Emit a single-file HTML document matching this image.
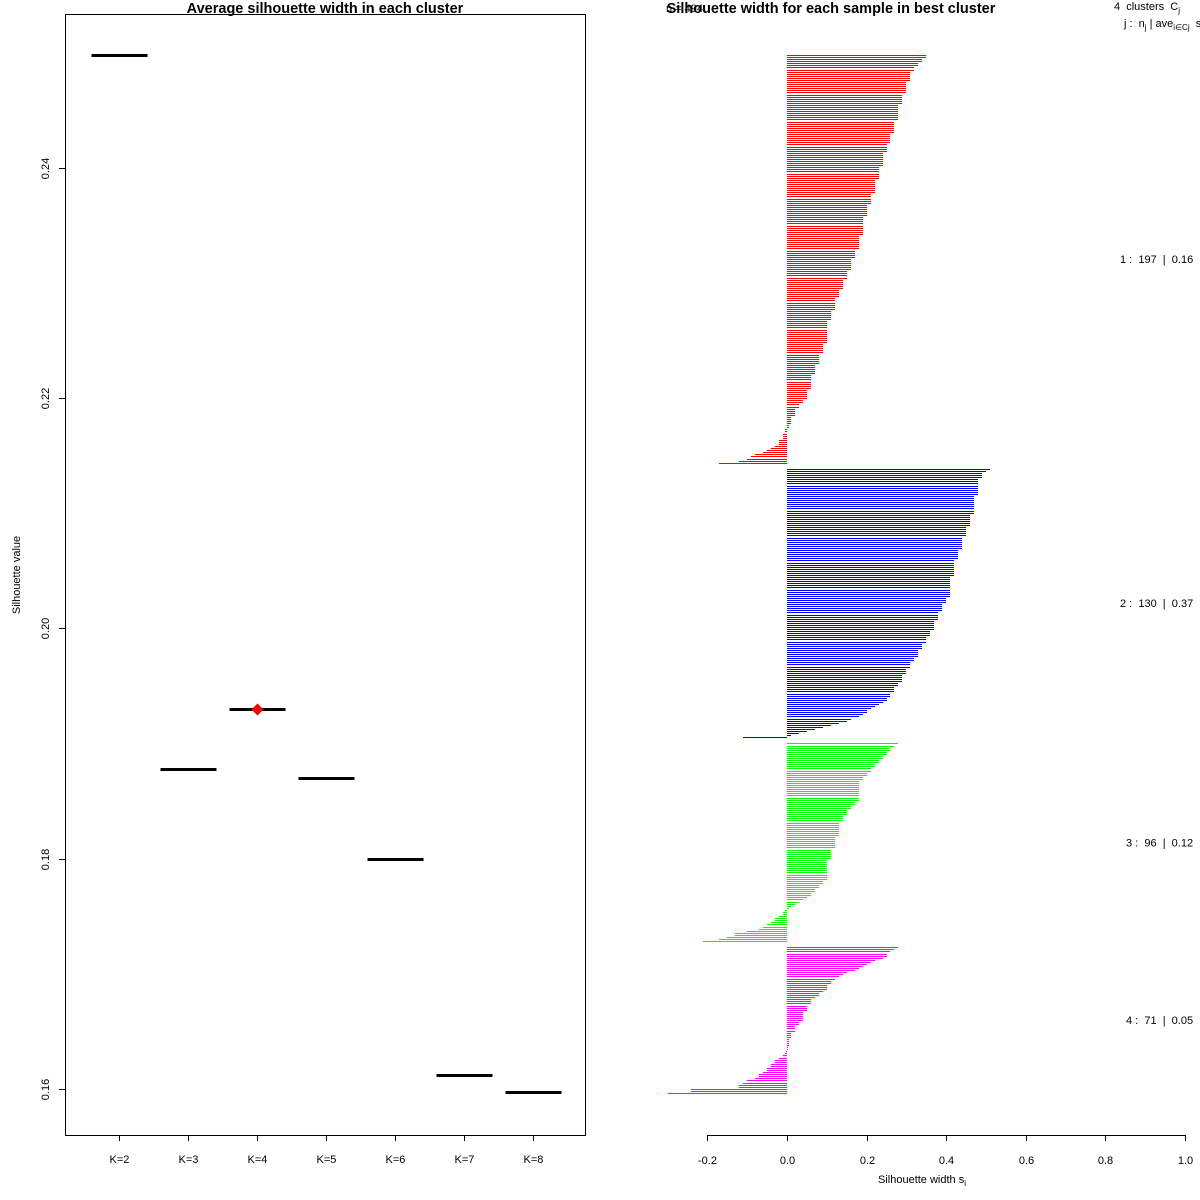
<!DOCTYPE html>
<html><head><meta charset="utf-8"><style>
html,body{margin:0;padding:0;background:#fff;}
svg{display:block;font-family:"Liberation Sans",Arial,sans-serif;}
text{white-space:pre;}
</style></head><body>
<svg id="chart" width="1200" height="1200" viewBox="0 0 1200 1200" xmlns="http://www.w3.org/2000/svg"></svg>
<script>
// ---- Left chart data ----
const kLabels = ["K=2","K=3","K=4","K=5","K=6","K=7","K=8"];
const avgSil = [0.2498,0.1878,0.1930,0.1870,0.1800,0.1612,0.1597];
const bestK = "K=4";
const yTicks = [0.16,0.18,0.20,0.22,0.24];
// ---- Right chart data ----
const clusterNames = ["1","2","3","4"];
const clusterColors = ["#ff0000","#0000ff","#00ff00","#ff00ff"];
const clusterSizes = [197,130,96,71];
const clusterAvg = ["0.16","0.37","0.12","0.05"];
const sil1 = [.35,.35,.34,.34,.33,.33,.32,.32,.31,.31,.31,.31,.31,.30,.30,.30,.30,.30,.30,.29,
.29,.29,.29,.29,.28,.28,.28,.28,.28,.28,.28,.28,.27,.27,.27,.27,.27,.27,.26,.26,
.26,.26,.26,.25,.25,.25,.25,.24,.24,.24,.24,.24,.24,.24,.23,.23,.23,.23,.23,.23,
.22,.22,.22,.22,.22,.22,.22,.21,.21,.21,.21,.21,.20,.20,.20,.20,.20,.20,.19,.19,
.19,.19,.19,.19,.19,.19,.19,.18,.18,.18,.18,.18,.18,.18,.17,.17,.17,.17,.16,.16,
.16,.16,.16,.16,.15,.15,.15,.15,.14,.14,.14,.14,.14,.13,.13,.13,.13,.12,.12,.12,
.12,.12,.12,.11,.11,.11,.11,.11,.10,.10,.10,.10,.10,.10,.10,.10,.10,.10,.10,.09,
.09,.09,.09,.09,.08,.08,.08,.08,.08,.07,.07,.07,.07,.07,.06,.06,.06,.06,.06,.06,
.06,.05,.05,.05,.05,.05,.04,.04,.03,.03,.02,.02,.02,.02,.01,.01,.01,.01,.005,.005,
-.005,-.005,-.01,-.01,-.01,-.02,-.02,-.02,-.03,-.04,-.05,-.06,-.08,-.09,-.10,-.12,-.17];
const sil2 = [.51,.50,.49,.49,.49,.48,.48,.48,.48,.48,.48,.48,.48,.47,.47,.47,.47,.47,.47,.47,
.47,.47,.46,.46,.46,.46,.46,.46,.45,.45,.45,.45,.45,.44,.44,.44,.44,.44,.44,.43,
.43,.43,.43,.43,.42,.42,.42,.42,.42,.42,.42,.42,.41,.41,.41,.41,.41,.41,.41,.41,
.41,.41,.40,.40,.40,.39,.39,.39,.39,.38,.38,.38,.38,.37,.37,.37,.37,.37,.36,.36,
.36,.35,.35,.35,.34,.34,.34,.33,.33,.33,.33,.32,.32,.31,.31,.31,.30,.30,.30,.29,
.29,.29,.29,.28,.28,.27,.27,.27,.26,.26,.25,.25,.24,.23,.22,.21,.20,.20,.19,.18,
.16,.15,.13,.11,.09,.07,.05,.03,.01,-.11];
const sil3 = [.28,.27,.26,.26,.25,.25,.24,.24,.23,.23,.22,.22,.21,.21,.20,.20,.19,.19,.18,.18,
.18,.18,.18,.18,.18,.18,.18,.18,.17,.17,.16,.16,.15,.15,.15,.14,.14,.14,.13,.13,
.13,.13,.13,.13,.13,.12,.12,.12,.12,.12,.12,.11,.11,.11,.11,.11,.10,.10,.10,.10,
.10,.10,.10,.10,.10,.10,.09,.09,.08,.08,.07,.07,.06,.06,.05,.04,.03,.02,.01,.005,
-.005,-.01,-.01,-.02,-.03,-.03,-.04,-.05,-.06,-.07,-.10,-.13,-.13,-.15,-.17,-.21];
const sil4 = [.28,.27,.26,.25,.25,.24,.22,.21,.20,.19,.18,.17,.15,.14,.13,.12,.11,.11,.10,.10,
.10,.09,.08,.08,.07,.06,.06,.06,.05,.05,.05,.04,.04,.04,.04,.04,.03,.03,.02,.02,
.02,.01,.01,.01,.005,.005,.005,.005,.003,.003,
-.003,-.005,-.01,-.02,-.03,-.03,-.04,-.04,-.05,-.05,
-.06,-.07,-.07,-.08,-.10,-.11,-.12,-.12,-.24,-.24,-.30];
const silData = [sil1,sil2,sil3,sil4];
const xTicks = [-0.2,0,0.2,0.4,0.6,0.8,1.0];

const NS="http://www.w3.org/2000/svg";
const svg=document.getElementById('chart');
function mk(tag,attrs,parent){const e=document.createElementNS(NS,tag);for(const k in attrs)e.setAttribute(k,attrs[k]);(parent||svg).appendChild(e);return e;}

// ===== Left chart =====
const left=mk('g',{});


const yScale=v=>1089-(v-0.16)*11512.5;
const xK=i=>119+i*69;
let e;
e=mk('rect',{x:65.5,y:14.5,width:520,height:1121,fill:'none',stroke:'#000','stroke-width':1},left);


e=mk('text',{x:325,y:13,'text-anchor':'middle','font-size':14.5,'font-weight':'bold'},left);e.textContent='Average silhouette width in each cluster';


e=mk('text',{x:0,y:0,transform:'translate(20,575) rotate(-90)','text-anchor':'middle','font-size':11},left);e.textContent='Silhouette value';


yTicks.forEach(t=>{
  const y=Math.round(yScale(t))+0.5;
  const l=mk('line',{x1:59,x2:65,y1:y,y2:y,stroke:'#000'},left);
  
  
  const tx=mk('text',{x:0,y:0,transform:`translate(49,${y}) rotate(-90)`,'text-anchor':'middle','font-size':11},left);
  tx.textContent=t.toFixed(2);
  
  
});
kLabels.forEach((k,i)=>{
  const x=xK(i)+0.5;
  const l=mk('line',{x1:x,x2:x,y1:1135,y2:1141,stroke:'#000'},left);
  
  
  const tx=mk('text',{x:x,y:1163,'text-anchor':'middle','font-size':11},left);
  tx.textContent=k;
  
  
  const y=Math.round(yScale(avgSil[i]))+0.5;
  const s=mk('line',{x1:x-28,x2:x+28,y1:y,y2:y,stroke:'#000','stroke-width':3},left);
  
  
  if(k===bestK){
    const d=mk('polygon',{points:`${x},${y-6} ${x+6},${y} ${x},${y+6} ${x-6},${y}`,fill:'#ff0000'},left);
    
    
  }
});

// ===== Right chart =====
const right=mk('g',{});


const xS=v=>787+v*398;
const top0=55, step=2.08, gap=2;
e=mk('text',{x:831,y:13,'text-anchor':'middle','font-size':14.5,'font-weight':'bold'},right);e.textContent='Silhouette width for each sample in best cluster';


e=mk('text',{x:666,y:12,'font-size':11},right);e.textContent='n = 494';


e=mk('text',{x:1114,y:10,'font-size':11},right);
e.innerHTML='4  clusters  C<tspan font-size="8" dy="3">j</tspan>';


e=mk('text',{x:1124,y:27,'font-size':11},right);
e.innerHTML='j :  n<tspan font-size="8" dy="3">j</tspan><tspan dy="-3"> | ave</tspan><tspan font-size="8" dy="3">i∈Cj</tspan><tspan dy="-3">  s</tspan>';


let idx=0;
silData.forEach((arr,c)=>{
  const startIdx=idx;
  arr.forEach(v=>{
    const y=Math.round(top0+idx*step);
    const x0=xS(0), x1=xS(v);
    const r=mk('rect',{x:Math.round(Math.min(x0,x1)),y:y,width:Math.max(Math.round(Math.abs(x1-x0)),1),height:1,fill:clusterColors[c],'shape-rendering':'crispEdges'},right);
    
    
    idx++;
  });
  const midY=top0+((startIdx+idx-1)/2)*step+4;
  const lab=mk('text',{x:(c>=2?1126:1120),y:midY,'font-size':11},right);
  lab.textContent=clusterNames[c]+' :  '+clusterSizes[c]+'  |  '+clusterAvg[c];
  
  
  idx+=gap;
});
e=mk('line',{x1:xS(-0.2),x2:xS(1.0),y1:1135.5,y2:1135.5,stroke:'#000'},right);


xTicks.forEach(t=>{
  const x=Math.round(xS(t))+0.5;
  const l=mk('line',{x1:x,x2:x,y1:1135,y2:1141,stroke:'#000'},right);
  
  
  const tx=mk('text',{x:x,y:1164,'text-anchor':'middle','font-size':11},right);
  tx.textContent=t.toFixed(1);
  
  
});
e=mk('text',{x:922,y:1183,'text-anchor':'middle','font-size':11},right);
e.innerHTML='Silhouette width s<tspan font-size="8" dy="3">i</tspan>';


</script>
</body></html>
